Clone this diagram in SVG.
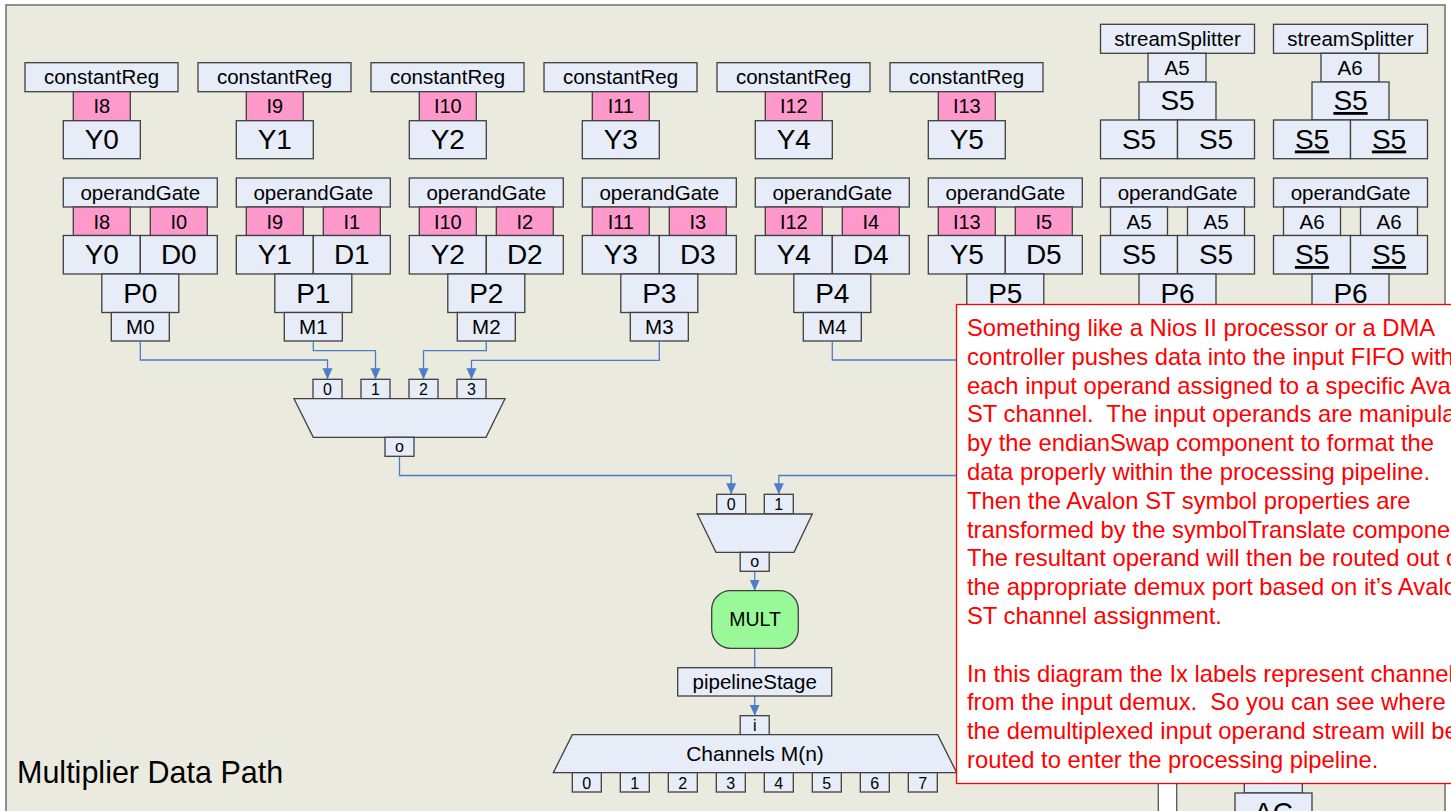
<svg xmlns="http://www.w3.org/2000/svg" width="1451" height="811" viewBox="0 0 1451 811">
<style>
.n{fill:#E6ECF8;stroke:#3F3F3F;stroke-width:1.3}
.pk{fill:#FF99CC;stroke:#3F3F3F;stroke-width:1.3}
.t{font-family:"Liberation Sans",Arial,sans-serif;fill:#000;text-anchor:middle}
.s20{font-size:20.5px}
.s19{font-size:20px}
.s28{font-size:28px}
.s15{font-size:16px}
.u{text-decoration:underline}
.c{fill:none;stroke:#4A7EC9;stroke-width:1.3}
.note{font-family:"Liberation Sans",Arial,sans-serif;font-size:23.8px;fill:#FF0000;white-space:pre}
</style>
<defs>
<marker id="ah" markerUnits="userSpaceOnUse" markerWidth="11" markerHeight="11" refX="11" refY="5" orient="auto">
<path d="M0,0 L11,5 L0,10 z" fill="#4A7EC9"/>
</marker>
</defs>
<rect width="1451" height="811" fill="#FFFFFF"/>
<rect x="6" y="5" width="1439" height="830" fill="#EAEADF" stroke="#6E6E6E" stroke-width="1.5"/>

<!-- constantReg nodes -->
<g id="constReg0" transform="translate(63.3,0)">
<rect class="n" x="-38.3" y="62.7" width="153" height="29"/><text class="t s20" x="38.2" y="84">constantReg</text>
<rect class="pk" x="10" y="91.7" width="57" height="29"/><text class="t s19" x="38.5" y="113">I8</text>
<rect class="n" x="0" y="120.7" width="77" height="38"/><text class="t s28" x="38.5" y="148.5">Y0</text>
</g>
<g id="constReg1" transform="translate(236.3,0)">
<rect class="n" x="-38.3" y="62.7" width="153" height="29"/><text class="t s20" x="38.2" y="84">constantReg</text>
<rect class="pk" x="10" y="91.7" width="57" height="29"/><text class="t s19" x="38.5" y="113">I9</text>
<rect class="n" x="0" y="120.7" width="77" height="38"/><text class="t s28" x="38.5" y="148.5">Y1</text>
</g>
<g id="constReg2" transform="translate(409.3,0)">
<rect class="n" x="-38.3" y="62.7" width="153" height="29"/><text class="t s20" x="38.2" y="84">constantReg</text>
<rect class="pk" x="10" y="91.7" width="57" height="29"/><text class="t s19" x="38.5" y="113">I10</text>
<rect class="n" x="0" y="120.7" width="77" height="38"/><text class="t s28" x="38.5" y="148.5">Y2</text>
</g>
<g id="constReg3" transform="translate(582.3,0)">
<rect class="n" x="-38.3" y="62.7" width="153" height="29"/><text class="t s20" x="38.2" y="84">constantReg</text>
<rect class="pk" x="10" y="91.7" width="57" height="29"/><text class="t s19" x="38.5" y="113">I11</text>
<rect class="n" x="0" y="120.7" width="77" height="38"/><text class="t s28" x="38.5" y="148.5">Y3</text>
</g>
<g id="constReg4" transform="translate(755.3,0)">
<rect class="n" x="-38.3" y="62.7" width="153" height="29"/><text class="t s20" x="38.2" y="84">constantReg</text>
<rect class="pk" x="10" y="91.7" width="57" height="29"/><text class="t s19" x="38.5" y="113">I12</text>
<rect class="n" x="0" y="120.7" width="77" height="38"/><text class="t s28" x="38.5" y="148.5">Y4</text>
</g>
<g id="constReg5" transform="translate(928.3,0)">
<rect class="n" x="-38.3" y="62.7" width="153" height="29"/><text class="t s20" x="38.2" y="84">constantReg</text>
<rect class="pk" x="10" y="91.7" width="57" height="29"/><text class="t s19" x="38.5" y="113">I13</text>
<rect class="n" x="0" y="120.7" width="77" height="38"/><text class="t s28" x="38.5" y="148.5">Y5</text>
</g>

<!-- streamSplitter nodes -->
<g id="splitter6" transform="translate(1100.5,0)">
<rect class="n" x="0" y="24.3" width="154" height="29"/><text class="t s20" x="77" y="46">streamSplitter</text>
<rect class="n" x="47.5" y="53.3" width="58" height="28.7"/><text class="t s20" x="76.5" y="75">A5</text>
<rect class="n" x="38.5" y="82" width="77" height="38"/><text class="t s28" x="77" y="110">S5</text>
<rect class="n" x="0" y="120" width="77" height="38.7"/><text class="t s28" x="38.5" y="148.5">S5</text>
<rect class="n" x="77" y="120" width="77" height="38.7"/><text class="t s28" x="115.5" y="148.5">S5</text>
</g>
<g id="splitter7" transform="translate(1273.5,0)">
<rect class="n" x="0" y="24.3" width="154" height="29"/><text class="t s20" x="77" y="46">streamSplitter</text>
<rect class="n" x="47.5" y="53.3" width="58" height="28.7"/><text class="t s20" x="76.5" y="75">A6</text>
<rect class="n" x="38.5" y="82" width="77" height="38"/><text class="t s28 u" x="77" y="110">S5</text>
<rect class="n" x="0" y="120" width="77" height="38.7"/><text class="t s28 u" x="38.5" y="148.5">S5</text>
<rect class="n" x="77" y="120" width="77" height="38.7"/><text class="t s28 u" x="115.5" y="148.5">S5</text>
</g>

<!-- operandGate nodes -->
<g id="gate0" transform="translate(63.3,0)">
<rect class="n" x="0" y="178" width="154" height="29"/><text class="t s20" x="77" y="199.5">operandGate</text>
<rect class="pk" x="10" y="207" width="57" height="28.5"/><text class="t s19" x="38.5" y="228.5">I8</text>
<rect class="pk" x="87" y="207" width="57" height="28.5"/><text class="t s19" x="115.5" y="228.5">I0</text>
<rect class="n" x="0" y="235.5" width="77" height="38.5"/><text class="t s28" x="38.5" y="264">Y0</text>
<rect class="n" x="77" y="235.5" width="77" height="38.5"/><text class="t s28" x="115.5" y="264">D0</text>
<rect class="n" x="38.5" y="274" width="77" height="38.5"/><text class="t s28" x="77" y="302.5">P0</text>
<rect class="n" x="48" y="312.5" width="58" height="28.5"/><text class="t s20" x="77" y="333.5">M0</text>
</g>
<g id="gate1" transform="translate(236.3,0)">
<rect class="n" x="0" y="178" width="154" height="29"/><text class="t s20" x="77" y="199.5">operandGate</text>
<rect class="pk" x="10" y="207" width="57" height="28.5"/><text class="t s19" x="38.5" y="228.5">I9</text>
<rect class="pk" x="87" y="207" width="57" height="28.5"/><text class="t s19" x="115.5" y="228.5">I1</text>
<rect class="n" x="0" y="235.5" width="77" height="38.5"/><text class="t s28" x="38.5" y="264">Y1</text>
<rect class="n" x="77" y="235.5" width="77" height="38.5"/><text class="t s28" x="115.5" y="264">D1</text>
<rect class="n" x="38.5" y="274" width="77" height="38.5"/><text class="t s28" x="77" y="302.5">P1</text>
<rect class="n" x="48" y="312.5" width="58" height="28.5"/><text class="t s20" x="77" y="333.5">M1</text>
</g>
<g id="gate2" transform="translate(409.3,0)">
<rect class="n" x="0" y="178" width="154" height="29"/><text class="t s20" x="77" y="199.5">operandGate</text>
<rect class="pk" x="10" y="207" width="57" height="28.5"/><text class="t s19" x="38.5" y="228.5">I10</text>
<rect class="pk" x="87" y="207" width="57" height="28.5"/><text class="t s19" x="115.5" y="228.5">I2</text>
<rect class="n" x="0" y="235.5" width="77" height="38.5"/><text class="t s28" x="38.5" y="264">Y2</text>
<rect class="n" x="77" y="235.5" width="77" height="38.5"/><text class="t s28" x="115.5" y="264">D2</text>
<rect class="n" x="38.5" y="274" width="77" height="38.5"/><text class="t s28" x="77" y="302.5">P2</text>
<rect class="n" x="48" y="312.5" width="58" height="28.5"/><text class="t s20" x="77" y="333.5">M2</text>
</g>
<g id="gate3" transform="translate(582.3,0)">
<rect class="n" x="0" y="178" width="154" height="29"/><text class="t s20" x="77" y="199.5">operandGate</text>
<rect class="pk" x="10" y="207" width="57" height="28.5"/><text class="t s19" x="38.5" y="228.5">I11</text>
<rect class="pk" x="87" y="207" width="57" height="28.5"/><text class="t s19" x="115.5" y="228.5">I3</text>
<rect class="n" x="0" y="235.5" width="77" height="38.5"/><text class="t s28" x="38.5" y="264">Y3</text>
<rect class="n" x="77" y="235.5" width="77" height="38.5"/><text class="t s28" x="115.5" y="264">D3</text>
<rect class="n" x="38.5" y="274" width="77" height="38.5"/><text class="t s28" x="77" y="302.5">P3</text>
<rect class="n" x="48" y="312.5" width="58" height="28.5"/><text class="t s20" x="77" y="333.5">M3</text>
</g>
<g id="gate4" transform="translate(755.3,0)">
<rect class="n" x="0" y="178" width="154" height="29"/><text class="t s20" x="77" y="199.5">operandGate</text>
<rect class="pk" x="10" y="207" width="57" height="28.5"/><text class="t s19" x="38.5" y="228.5">I12</text>
<rect class="pk" x="87" y="207" width="57" height="28.5"/><text class="t s19" x="115.5" y="228.5">I4</text>
<rect class="n" x="0" y="235.5" width="77" height="38.5"/><text class="t s28" x="38.5" y="264">Y4</text>
<rect class="n" x="77" y="235.5" width="77" height="38.5"/><text class="t s28" x="115.5" y="264">D4</text>
<rect class="n" x="38.5" y="274" width="77" height="38.5"/><text class="t s28" x="77" y="302.5">P4</text>
<rect class="n" x="48" y="312.5" width="58" height="28.5"/><text class="t s20" x="77" y="333.5">M4</text>
</g>
<g id="gate5" transform="translate(928.3,0)">
<rect class="n" x="0" y="178" width="154" height="29"/><text class="t s20" x="77" y="199.5">operandGate</text>
<rect class="pk" x="10" y="207" width="57" height="28.5"/><text class="t s19" x="38.5" y="228.5">I13</text>
<rect class="pk" x="87" y="207" width="57" height="28.5"/><text class="t s19" x="115.5" y="228.5">I5</text>
<rect class="n" x="0" y="235.5" width="77" height="38.5"/><text class="t s28" x="38.5" y="264">Y5</text>
<rect class="n" x="77" y="235.5" width="77" height="38.5"/><text class="t s28" x="115.5" y="264">D5</text>
<rect class="n" x="38.5" y="274" width="77" height="38.5"/><text class="t s28" x="77" y="302.5">P5</text>
</g>
<g id="gate6" transform="translate(1100.5,0)">
<rect class="n" x="0" y="178" width="154" height="29"/><text class="t s20" x="77" y="199.5">operandGate</text>
<rect class="n" x="10" y="207" width="57" height="28.5"/><text class="t s20" x="38.5" y="228.5">A5</text>
<rect class="n" x="87" y="207" width="57" height="28.5"/><text class="t s20" x="115.5" y="228.5">A5</text>
<rect class="n" x="0" y="235.5" width="77" height="38.5"/><text class="t s28" x="38.5" y="264">S5</text>
<rect class="n" x="77" y="235.5" width="77" height="38.5"/><text class="t s28" x="115.5" y="264">S5</text>
<rect class="n" x="38.5" y="274" width="77" height="38.5"/><text class="t s28" x="77" y="302.5">P6</text>
</g>
<g id="gate7" transform="translate(1273.5,0)">
<rect class="n" x="0" y="178" width="154" height="29"/><text class="t s20" x="77" y="199.5">operandGate</text>
<rect class="n" x="10" y="207" width="57" height="28.5"/><text class="t s20" x="38.5" y="228.5">A6</text>
<rect class="n" x="87" y="207" width="57" height="28.5"/><text class="t s20" x="115.5" y="228.5">A6</text>
<rect class="n" x="0" y="235.5" width="77" height="38.5"/><text class="t s28 u" x="38.5" y="264">S5</text>
<rect class="n" x="77" y="235.5" width="77" height="38.5"/><text class="t s28 u" x="115.5" y="264">S5</text>
<rect class="n" x="38.5" y="274" width="77" height="38.5"/><text class="t s28" x="77" y="302.5">P6</text>
</g>

<!-- connectors -->
<g id="connectors">
<path class="c" d="M140.3,341 V360 H327.5 V379.3" marker-end="url(#ah)"/>
<path class="c" d="M313.3,341 V350.7 H375.5 V379.3" marker-end="url(#ah)"/>
<path class="c" d="M486.3,341 V350.7 H423.5 V379.3" marker-end="url(#ah)"/>
<path class="c" d="M659.3,341 V360.3 H471.5 V379.3" marker-end="url(#ah)"/>
<path class="c" d="M832.3,341 V360 H975"/>
<path class="c" d="M399.5,456.3 V475.5 H731.2 V494.3" marker-end="url(#ah)"/>
<path class="c" d="M975,475.5 H778.8 V494.3" marker-end="url(#ah)"/>
<path class="c" d="M754.7,571.3 V590.7" marker-end="url(#ah)"/>
<path class="c" d="M754.7,648.3 V667.7"/>
<path class="c" d="M754.7,696 V715.7" marker-end="url(#ah)"/>
</g>

<!-- mux 1 -->
<g id="mux1">
<rect class="n" x="313" y="379.3" width="29" height="19.4"/><text class="t s15" x="327.5" y="395">0</text>
<rect class="n" x="361" y="379.3" width="29" height="19.4"/><text class="t s15" x="375.5" y="395">1</text>
<rect class="n" x="409" y="379.3" width="29" height="19.4"/><text class="t s15" x="423.5" y="395">2</text>
<rect class="n" x="457" y="379.3" width="29" height="19.4"/><text class="t s15" x="471.5" y="395">3</text>
<path class="n" d="M294,398.7 H505 L486,437.3 H313.3 Z"/>
<rect class="n" x="385" y="437.3" width="29" height="19"/><text class="t s15" x="399.5" y="452">o</text>
</g>

<!-- mux 2 -->
<g id="mux2">
<rect class="n" x="716.7" y="494.3" width="29" height="19.7"/><text class="t s15" x="731.2" y="510">0</text>
<rect class="n" x="764.3" y="494.3" width="29" height="19.7"/><text class="t s15" x="778.8" y="510">1</text>
<path class="n" d="M697.3,514 H812.3 L794,552.3 H716 Z"/>
<rect class="n" x="740.2" y="552.3" width="29" height="19"/><text class="t s15" x="754.7" y="567">o</text>
</g>

<g id="mult">
<rect x="711.7" y="590.7" width="86.6" height="57.6" rx="19" ry="19" fill="#99F998" stroke="#3F3F3F" stroke-width="1.3"/>
<text class="t" style="font-size:19.5px" x="755" y="626">MULT</text>
</g>

<g id="pipelineStage">
<rect class="n" x="677.7" y="667.7" width="154" height="28.3"/>
<text class="t s20" x="754.7" y="688.5">pipelineStage</text>
</g>

<g id="demux">
<rect class="n" x="740.2" y="715.7" width="29" height="19"/><text class="t s15" x="754.7" y="730.5">i</text>
<path class="n" d="M572.3,734.7 H937.7 L956.7,772.7 H553.3 Z"/>
<text class="t" style="font-size:21px" x="755" y="760.7">Channels M(n)</text>
<rect class="n" x="572.3" y="772.7" width="29" height="19.3"/><text class="t s15" x="586.8" y="788.5">0</text>
<rect class="n" x="620.3" y="772.7" width="29" height="19.3"/><text class="t s15" x="634.8" y="788.5">1</text>
<rect class="n" x="668.3" y="772.7" width="29" height="19.3"/><text class="t s15" x="682.8" y="788.5">2</text>
<rect class="n" x="716.3" y="772.7" width="29" height="19.3"/><text class="t s15" x="730.8" y="788.5">3</text>
<rect class="n" x="764.3" y="772.7" width="29" height="19.3"/><text class="t s15" x="778.8" y="788.5">4</text>
<rect class="n" x="812.3" y="772.7" width="29" height="19.3"/><text class="t s15" x="826.8" y="788.5">5</text>
<rect class="n" x="860.3" y="772.7" width="29" height="19.3"/><text class="t s15" x="874.8" y="788.5">6</text>
<rect class="n" x="908.3" y="772.7" width="29" height="19.3"/><text class="t s15" x="922.8" y="788.5">7</text>
</g>

<!-- partially visible items lower right -->
<g id="strip">
<rect x="1158.3" y="775" width="18.4" height="60" fill="#FFFFFF" stroke="#555555" stroke-width="1.3"/>
</g>
<g id="lowerNode">
<rect class="n" x="1244.3" y="770" width="58" height="23"/>
<rect class="n" x="1235" y="793" width="77" height="38.5"/>
<text class="t s28" x="1273.5" y="821.5">AC</text>
</g>

<text id="title" x="17" y="783.3" style="font-family:'Liberation Sans',Arial,sans-serif;font-size:30.5px;fill:#000">Multiplier Data Path</text>

<!-- annotation -->
<g id="note">
<rect x="956.5" y="304.5" width="520" height="479" fill="#FFFFFF" stroke="#FF0000" stroke-width="1.3"/>
<text class="note" x="967" y="336">Something like a Nios II processor or a DMA</text>
<text class="note" x="967" y="364.8">controller pushes data into the input FIFO with</text>
<text class="note" x="967" y="393.6">each input operand assigned to a specific Avalon</text>
<text class="note" x="967" y="422.4">ST channel.  The input operands are manipulated</text>
<text class="note" x="967" y="451.2">by the endianSwap component to format the</text>
<text class="note" x="967" y="480">data properly within the processing pipeline.</text>
<text class="note" x="967" y="508.8">Then the Avalon ST symbol properties are</text>
<text class="note" x="967" y="537.6">transformed by the symbolTranslate component.</text>
<text class="note" x="967" y="566.4">The resultant operand will then be routed out of</text>
<text class="note" x="967" y="595.2">the appropriate demux port based on it’s Avalon</text>
<text class="note" x="967" y="624">ST channel assignment.</text>
<text class="note" x="967" y="681.6">In this diagram the Ix labels represent channels</text>
<text class="note" x="967" y="710.4">from the input demux.  So you can see where</text>
<text class="note" x="967" y="739.2">the demultiplexed input operand stream will be</text>
<text class="note" x="967" y="768">routed to enter the processing pipeline.</text>
</g>
</svg>
